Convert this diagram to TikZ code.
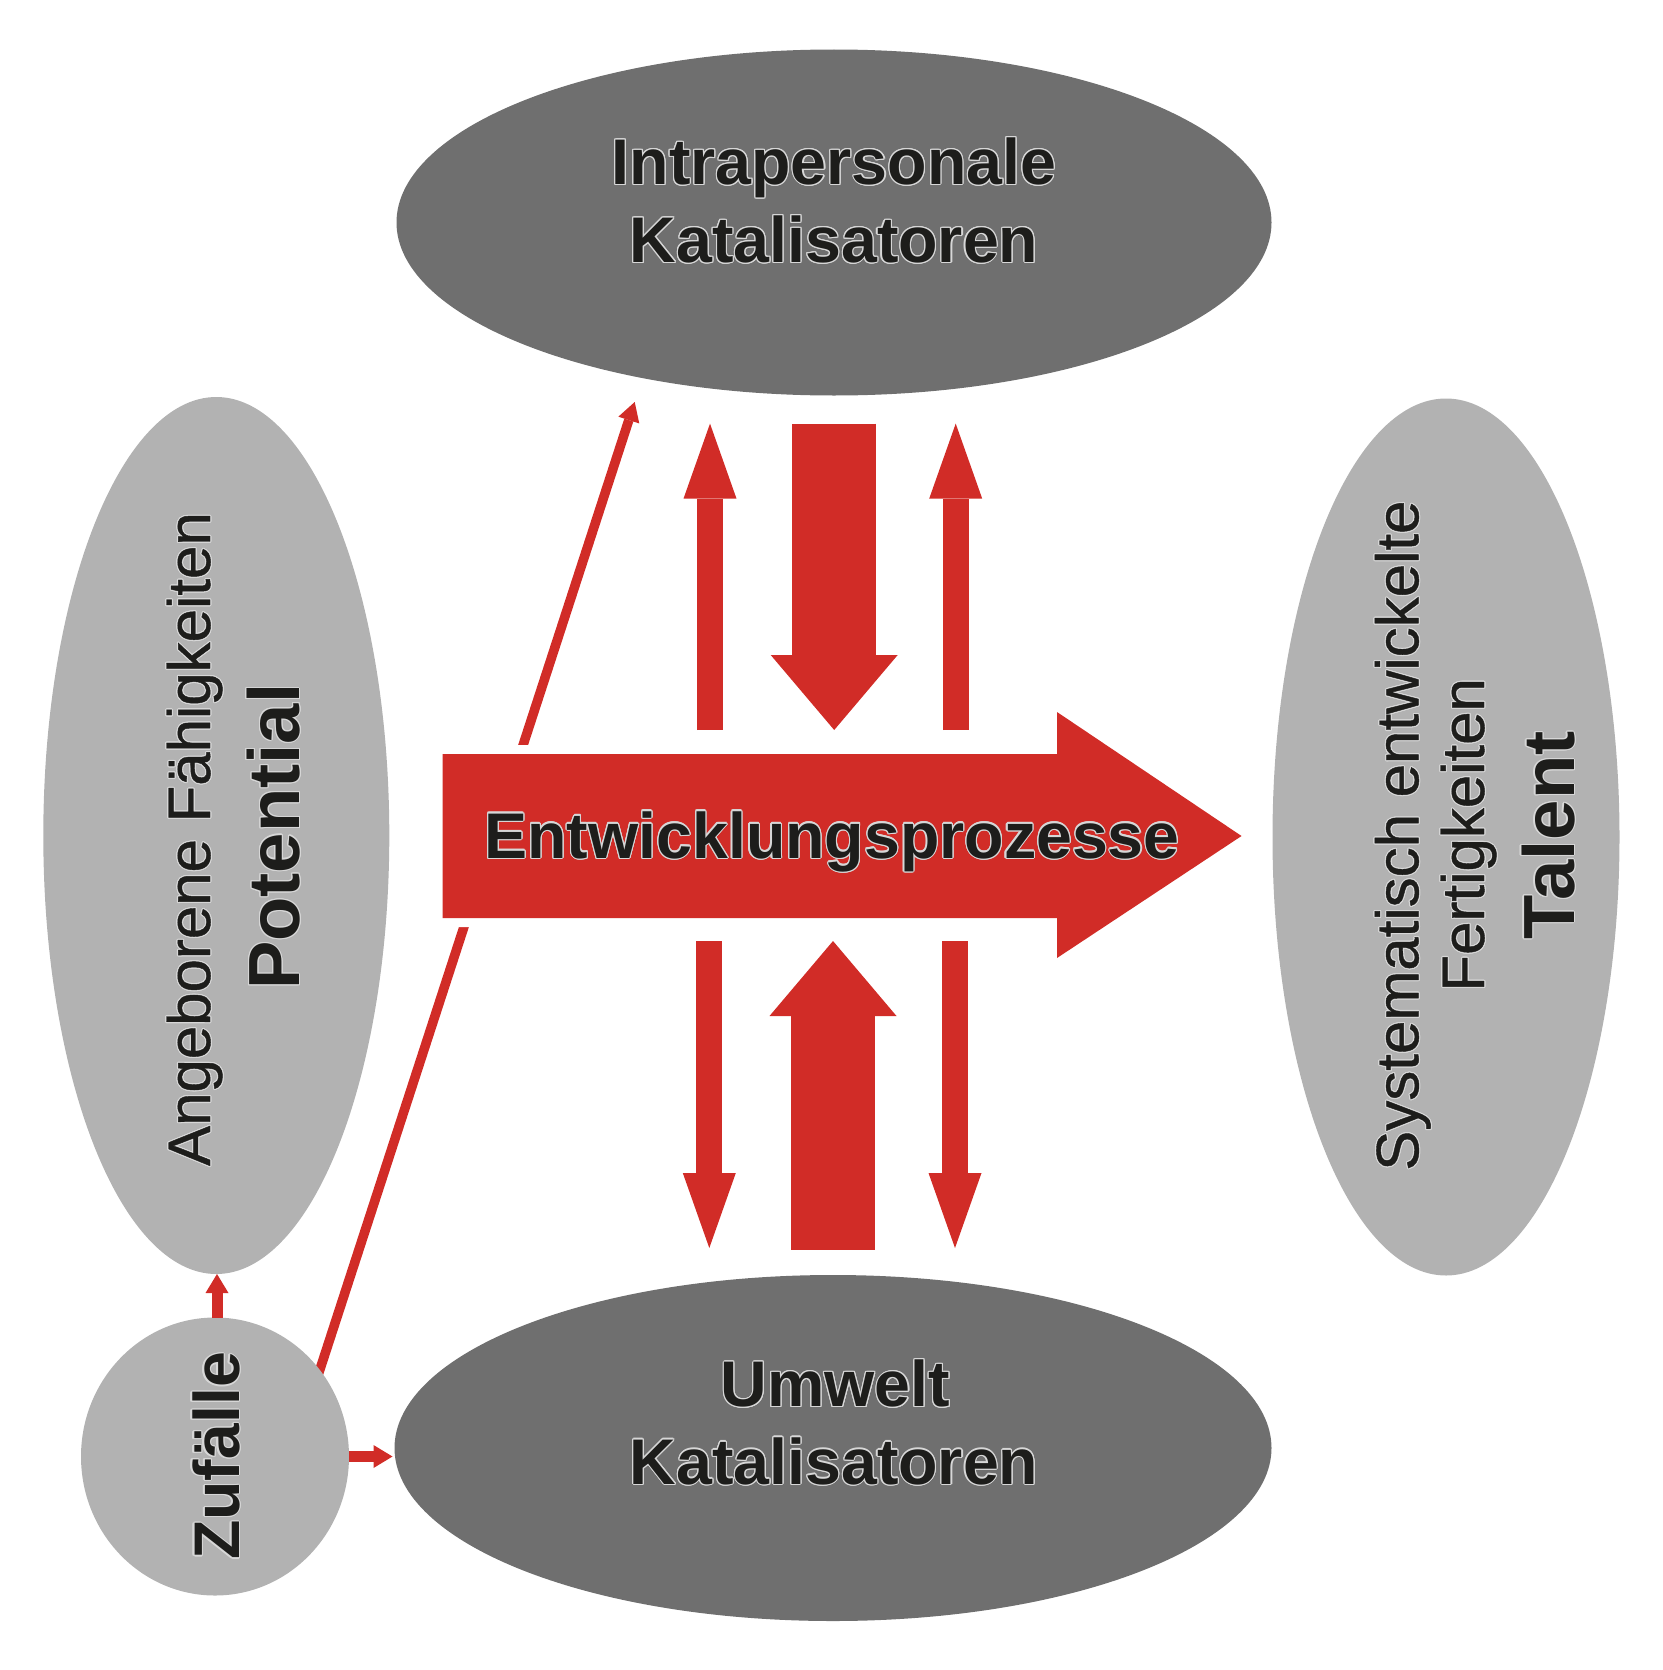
\documentclass[tikz,border=0pt]{standalone}
\usepackage{fontspec}
\setmainfont{Liberation Sans}
\newfontfamily\medfont[FakeBold=0.7]{Liberation Sans}
\usepackage{contour}
\usetikzlibrary{shapes.geometric,arrows.meta}
\definecolor{dgray}{RGB}{111,111,111}
\definecolor{lgray}{RGB}{178,178,178}
\definecolor{bred}{RGB}{209,44,39}
\definecolor{txt}{RGB}{29,29,27}
\definecolor{outl}{RGB}{215,215,215}
\contourlength{1.1pt}
\contournumber{16}
\newcommand{\ol}[1]{\contour{outl}{#1}}
\begin{document}
\begin{tikzpicture}[x=1pt,y=-1pt,
  ell/.style={ellipse,inner sep=0pt,outer sep=0pt},
  darkell/.style={ell,fill=dgray},
  lightell/.style={ell,fill=lgray},
  btxt/.style={font=\fontsize{64.5}{70}\selectfont\bfseries,text=txt,inner sep=0pt,anchor=base},
  bigtxt/.style={font=\fontsize{72.5}{78}\selectfont\bfseries,text=txt,inner sep=0pt,anchor=base},
  rtxt/.style={font=\medfont\fontsize{60}{66}\selectfont,text=txt,inner sep=0pt,anchor=base},
  thinarrow/.style={bred,line width=26pt,-{Triangle[length=75pt,width=53pt,line width=0pt]}},
  bigarrow/.style={bred,line width=84pt,-{Triangle[length=75pt,width=127pt,line width=0pt]}},
  smallarrow/.style={bred,line width=11pt,-{Triangle[length=19pt,width=23pt,line width=0pt]}},
  diagarrow/.style={bred,line width=9.5pt,-{Triangle[length=19pt,width=22pt,line width=0pt]}}
]
\useasboundingbox (0,0) rectangle (1662,1670);

% diagonal connector (drawn first, passes behind the process arrow and the circle)
\coordinate (dstart) at (303.5,1420);
\coordinate (dtip) at (634.7,402);
\draw[diagarrow] (dstart) -- (dtip);

% main process arrow
\path[fill=bred,preaction={draw=white,line width=18pt,line join=round}]
  (442.5,754) -- (1057,754) -- (1057,712) -- (1241.5,836) -- (1057,958) -- (1057,918) -- (442.5,918) -- cycle;
\node[btxt] (proc) at (832,858) {\ol{Entwicklungsprozesse}};

% ellipses
\node[darkell,minimum width=875pt,minimum height=346pt] (intra) at (834,222.5) {};
\node[darkell,minimum width=877pt,minimum height=346pt] (umw) at (833,1448) {};
\node[lightell,minimum width=346pt,minimum height=877pt] (pot) at (216.3,835.5) {};
\node[lightell,minimum width=347pt,minimum height=877pt] (tal) at (1446,837) {};
\node[lightell,minimum width=268pt,minimum height=278pt] (zuf) at (215,1456.5) {};

% arrows between catalysts and process
\coordinate (a1s) at (710,730);   \coordinate (a1e) at (710,423.6);
\coordinate (a2s) at (955.7,730); \coordinate (a2e) at (955.7,423.6);
\coordinate (a3s) at (834.2,423.6); \coordinate (a3e) at (834.2,730);
\coordinate (b1s) at (709.3,941);  \coordinate (b1e) at (709.3,1248);
\coordinate (b2s) at (955,941);    \coordinate (b2e) at (955,1248);
\coordinate (b3s) at (833,1249.6); \coordinate (b3e) at (833,941);
\draw[thinarrow] (a1s) -- (a1e);
\draw[thinarrow] (a2s) -- (a2e);
\draw[bigarrow] (a3s) -- (a3e);
\draw[thinarrow] (b1s) -- (b1e);
\draw[thinarrow] (b2s) -- (b2e);
\draw[bigarrow] (b3s) -- (b3e);

% small arrows from Zufaelle
\draw[smallarrow] ([xshift=2pt]zuf.north) -- ([xshift=2pt]zuf.north |- pot.south);
\draw[smallarrow,shorten >=2pt] (zuf.east) -- (zuf.east -| umw.west);

% texts
\node[btxt] (t1) at (834,184.3) {\ol{Intrapersonale}};
\node[btxt] (t2) at (834,262.3) {\ol{Katalisatoren}};
\node[btxt] (t3) at (835.5,1406.7) {\ol{Umwelt}};
\node[btxt] (t4) at (834,1484) {\ol{Katalisatoren}};
\node[rtxt,rotate=90] (t5) at (210,839) {\ol{Angeborene Fähigkeiten}};
\node[bigtxt,rotate=90] (t6) at (299.3,836.8) {\ol{Potential}};
\node[rtxt,rotate=90] (t7) at (1418.3,835.6) {\ol{Systematisch entwickelte}};
\node[rtxt,rotate=90] (t8) at (1484,834.8) {\ol{Fertigkeiten}};
\node[bigtxt,rotate=90] (t9) at (1574,835.5) {\ol{Talent}};
\node[btxt,rotate=90] (t10) at (239,1456) {\ol{Zufälle}};
\end{tikzpicture}
\end{document}
